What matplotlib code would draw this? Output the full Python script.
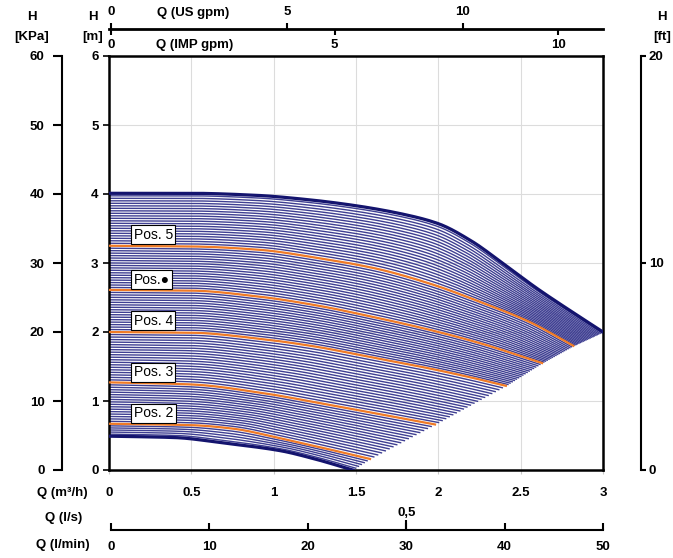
import matplotlib.pyplot as plt
import numpy as np

plt.rcParams['font.family'] = ['Liberation Sans', 'DejaVu Sans']
plt.rcParams['font.weight'] = 'bold'
plt.rcParams['font.size'] = 9.5

# pump curves: Q in m3/h, H in m
q_max = [0, 0.5, 0.9, 1.2, 1.5, 1.8, 2.0, 2.2, 2.4, 2.6, 2.8, 3.0]
h_max = [4.01, 4.01, 3.98, 3.92, 3.83, 3.70, 3.57, 3.32, 2.98, 2.63, 2.31, 2.00]
q_pos5 = [0, 0.5, 0.92, 1.25, 1.62, 1.95, 2.25, 2.55, 2.82]
h_pos5 = [3.25, 3.24, 3.19, 3.08, 2.92, 2.70, 2.44, 2.15, 1.80]
q_posa = [0, 0.5, 0.92, 1.25, 1.6, 1.95, 2.25, 2.63]
h_posa = [2.61, 2.60, 2.51, 2.39, 2.22, 2.03, 1.84, 1.55]
q_pos4 = [0, 0.5, 0.92, 1.25, 1.6, 1.95, 2.2, 2.41]
h_pos4 = [2.00, 1.99, 1.90, 1.79, 1.63, 1.47, 1.34, 1.22]
q_pos3 = [0, 0.5, 0.92, 1.3, 1.62, 1.98]
h_pos3 = [1.27, 1.24, 1.12, 0.96, 0.82, 0.66]
q_pos2 = [0, 0.5, 0.75, 1.04, 1.3, 1.585]
h_pos2 = [0.67, 0.65, 0.60, 0.46, 0.32, 0.16]
q_min = [0, 0.4, 0.7, 1.04, 1.25, 1.48]
h_min = [0.49, 0.47, 0.39, 0.28, 0.16, 0.0]

pos_names = ['Pos. 5', 'Pos.\u25cf', 'Pos. 4', 'Pos. 3', 'Pos. 2']
pos_label_h = [3.41, 2.76, 2.16, 1.42, 0.82]

key_q = [q_max, q_pos5, q_posa, q_pos4, q_pos3, q_pos2, q_min]
key_h = [h_max, h_pos5, h_posa, h_pos4, h_pos3, h_pos2, h_min]
n_between = [20, 17, 16, 19, 16, 5]   # hatch lines between neighbouring key curves

W, HP = 673, 558
def box(x0, y0, x1, y1):
    return [x0 / W, 1 - y1 / HP, (x1 - x0) / W, (y1 - y0) / HP]

def pchip(x, y, xn):
    # smooth monotone curve through the read points
    x = np.asarray(x, float)
    y = np.asarray(y, float)
    h = np.diff(x)
    d = np.diff(y) / h
    m = np.zeros_like(y)
    for k in range(1, len(x) - 1):
        if d[k - 1] * d[k] > 0:
            w1 = 2 * h[k] + h[k - 1]
            w2 = h[k] + 2 * h[k - 1]
            m[k] = (w1 + w2) / (w1 / d[k - 1] + w2 / d[k])
    m[0] = d[0]
    m[-1] = d[-1]
    i = np.clip(np.searchsorted(x, xn) - 1, 0, len(h) - 1)
    t = (xn - x[i]) / h[i]
    return ((2 * t**3 - 3 * t**2 + 1) * y[i] + (t**3 - 2 * t**2 + t) * h[i] * m[i]
            + (-2 * t**3 + 3 * t**2) * y[i + 1] + (t**3 - t**2) * h[i] * m[i + 1])

s = np.linspace(0, 1, 200)
def sample(q, h):
    qq = s * q[-1]
    return qq, pchip(q, h, qq)

fig = plt.figure(figsize=(6.73, 5.58), dpi=100)

# main plot
ax = fig.add_axes(box(109, 56, 603, 470))
ax.set_xlim(0, 3)
ax.set_ylim(0, 6)
ax.set_xticks([0, 0.5, 1, 1.5, 2, 2.5, 3])
ax.set_xticklabels(['0', '0.5', '1', '1.5', '2', '2.5', '3'])
ax.set_yticks(range(7))
ax.grid(color='#dcdcdc', lw=0.8)
ax.set_axisbelow(True)
for sp in ax.spines.values():
    sp.set_linewidth(1.8)
ax.tick_params(axis='x', length=3, color='#c8c8c8', pad=9)
ax.tick_params(axis='y', length=4.5, width=1.2, pad=3)

# hatch of the variable speed band
for i in range(len(key_q) - 1):
    qa, ha = sample(key_q[i], key_h[i])
    qb, hb = sample(key_q[i + 1], key_h[i + 1])
    for t in np.arange(1, n_between[i] + 1) / (n_between[i] + 1):
        ax.plot((1 - t) * qa + t * qb, (1 - t) * ha + t * hb,
                color='#3f3f92', lw=1.0, zorder=2)

# fixed positions
for q, h in zip(key_q[1:-1], key_h[1:-1]):
    ax.plot(*sample(q, h), color='#ef7a26', lw=1.6, zorder=3)
# envelope
ax.plot(*sample(q_max, h_max), color='#14146e', lw=2.3, zorder=4)
ax.plot(*sample(q_min, h_min), color='#14146e', lw=2.3, zorder=4)

for name, hl in zip(pos_names, pos_label_h):
    ax.text(0.15, hl, name, ha='left', va='center', fontsize=10,
            fontweight='normal', zorder=5,
            bbox=dict(boxstyle='square,pad=0.18', fc='white', ec='black', lw=0.8))

# kPa axis
ax_kpa = fig.add_axes(box(62, 56, 63, 470))
ax_kpa.set_ylim(0, 60)
ax_kpa.set_yticks(range(0, 61, 10))
ax_kpa.set_xticks([])
ax_kpa.patch.set_visible(False)
for k in ['top', 'bottom', 'right']:
    ax_kpa.spines[k].set_visible(False)
ax_kpa.spines['left'].set_linewidth(1.5)
ax_kpa.tick_params(axis='y', length=6.5, width=1.5, pad=6)

# ft axis
ax_ft = fig.add_axes(box(640, 56, 641, 470))
ax_ft.set_ylim(0, 20)
ax_ft.set_yticks([0, 10, 20])
ax_ft.set_xticks([])
ax_ft.patch.set_visible(False)
for k in ['top', 'bottom', 'left']:
    ax_ft.spines[k].set_visible(False)
ax_ft.spines['right'].set_linewidth(1.5)
ax_ft.yaxis.tick_right()
ax_ft.tick_params(axis='y', length=3.6, width=1.5, pad=2)

# top flow axes
ax_us = fig.add_axes(box(109, 28.8, 603, 29))
ax_imp = ax_us.twiny()
ax_us.set_xlim(-0.057, 13.98)
ax_us.set_xticks([0, 5, 10])
ax_us.set_yticks([])
ax_us.patch.set_visible(False)
for k in ['bottom', 'left', 'right']:
    ax_us.spines[k].set_visible(False)
ax_us.spines['top'].set_linewidth(2)
ax_us.xaxis.tick_top()
ax_us.tick_params(axis='x', length=4.5, width=1.5, pad=3)

ax_imp.set_xlim(-0.045, 11.0)
ax_imp.set_xticks([0, 5, 10])
ax_imp.xaxis.tick_bottom()
for k in ax_imp.spines:
    ax_imp.spines[k].set_visible(False)
ax_imp.tick_params(axis='x', length=4.5, width=1.5, pad=3)

# bottom flow axes
ax_lmin = fig.add_axes(box(111, 529.8, 603, 530))
ax_ls = ax_lmin.twiny()
ax_lmin.set_xlim(0, 50)
ax_lmin.set_xticks(range(0, 51, 10))
ax_lmin.set_yticks([])
ax_lmin.patch.set_visible(False)
for k in ['top', 'left', 'right']:
    ax_lmin.spines[k].set_visible(False)
ax_lmin.spines['bottom'].set_linewidth(1.5)
ax_lmin.xaxis.tick_bottom()
ax_lmin.tick_params(axis='x', direction='in', length=5, width=1.5, pad=8)

ax_ls.set_xlim(0, 50 / 60)
ax_ls.set_xticks([0.5])
ax_ls.set_xticklabels(['0,5'])
ax_ls.xaxis.tick_top()
for k in ax_ls.spines:
    ax_ls.spines[k].set_visible(False)
ax_ls.tick_params(axis='x', length=7, width=1.5, pad=1)

# texts
fig.text(193 / W, 1 - 13 / HP, 'Q (US gpm)', ha='center', va='center')
fig.text(195 / W, 1 - 45 / HP, 'Q (IMP gpm)', ha='center', va='center')
fig.text(32 / W, 1 - 17 / HP, 'H', ha='center', va='center')
fig.text(32 / W, 1 - 37 / HP, '[KPa]', ha='center', va='center')
fig.text(93 / W, 1 - 17 / HP, 'H', ha='center', va='center')
fig.text(93 / W, 1 - 37 / HP, '[m]', ha='center', va='center')
fig.text(662 / W, 1 - 17 / HP, 'H', ha='center', va='center')
fig.text(662 / W, 1 - 37 / HP, '[ft]', ha='center', va='center')
fig.text(62 / W, 1 - 493 / HP, 'Q (m\u00b3/h)', ha='center', va='center')
fig.text(64 / W, 1 - 518 / HP, 'Q (l/s)', ha='center', va='center')
fig.text(63 / W, 1 - 545 / HP, 'Q (l/min)', ha='center', va='center')

fig.savefig('out.png', dpi=100)
